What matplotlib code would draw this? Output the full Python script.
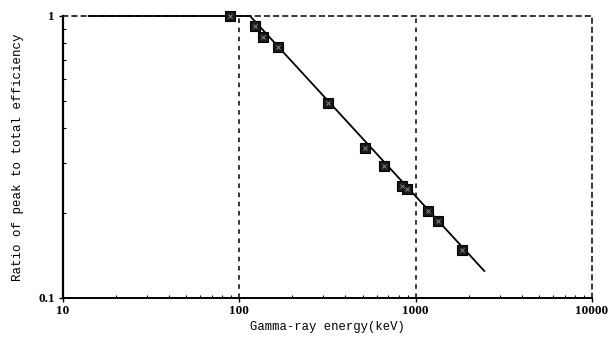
import matplotlib
matplotlib.use("Agg")
import matplotlib.pyplot as plt
from matplotlib.ticker import FixedLocator, NullFormatter, FixedFormatter

# Measured peak-to-total ratios for calibration sources
energy_kev = [88, 122, 136, 166, 320, 514, 662, 835, 898, 1173, 1332, 1836]
peak_to_total = [1.0, 0.922, 0.842, 0.776, 0.491, 0.340, 0.294, 0.249, 0.243, 0.203, 0.1875, 0.148]

# Fitted curve: flat at 1 below the knee, then a power-law decline
fit_energy = [14, 115, 2450]
fit_ratio = [1.0, 1.0, 0.1247]

x_ticks = [10, 100, 1000, 10000]
x_tick_labels = ["10", "100", "1000", "10000"]
y_ticks = [0.1, 1]
y_tick_labels = ["0.1", "1"]

fig = plt.figure(figsize=(6.16, 3.40), dpi=100)
ax = fig.add_axes([63 / 616, 1 - 298 / 340, (592 - 63) / 616, (298 - 16) / 340])

ax.set_xscale("log")
ax.set_yscale("log")
ax.set_xlim(10, 10000)
ax.set_ylim(0.1, 1)

ax.plot(fit_energy, fit_ratio, color="black", lw=1.3, zorder=3, clip_on=False)
ax.plot(energy_kev, peak_to_total, ls="none", marker="s", ms=6.5,
        mfc="#1a1a1a", mec="black", mew=0.8, zorder=4, clip_on=False)
ax.plot(energy_kev, peak_to_total, ls="none", marker="x", ms=2.5,
        mec="#999999", mew=0.6, zorder=5, clip_on=False)

# Dashed vertical guides at 100 and 1000 keV
for xv in [100, 1000]:
    ax.axvline(xv, color="black", ls=(0, (3, 3)), lw=1.1, zorder=2)

ax.spines["top"].set_linestyle((0, (3, 3)))
ax.spines["right"].set_linestyle((0, (3, 3)))
for side in ["top", "right"]:
    ax.spines[side].set_linewidth(1.1)
ax.spines["left"].set_linewidth(1.6)
ax.spines["bottom"].set_linewidth(1.4)

serif = "Liberation Serif"
mono = "Liberation Mono"

ax.xaxis.set_major_locator(FixedLocator(x_ticks))
ax.xaxis.set_major_formatter(FixedFormatter(x_tick_labels))
ax.yaxis.set_major_locator(FixedLocator(y_ticks))
ax.yaxis.set_major_formatter(FixedFormatter(y_tick_labels))
ax.xaxis.set_minor_locator(FixedLocator(
    [m * d for d in [10, 100, 1000] for m in range(2, 10)]))
ax.yaxis.set_minor_locator(FixedLocator([m * 0.1 for m in range(2, 10)]))
ax.xaxis.set_minor_formatter(NullFormatter())
ax.yaxis.set_minor_formatter(NullFormatter())

ax.tick_params(which="major", direction="out", length=3, width=1)
ax.tick_params(axis="x", which="major", pad=2)
ax.tick_params(axis="y", which="major", pad=3)
ax.tick_params(which="minor", direction="in", length=2, width=0.8)
ax.tick_params(axis="y", which="both", right=False)
ax.tick_params(axis="x", which="both", top=False)

for lab in ax.get_xticklabels() + ax.get_yticklabels():
    lab.set_fontfamily(serif)
    lab.set_fontsize(9.5)
    lab.set_fontweight("bold")

ax.set_xlabel("Gamma-ray energy(keV)", fontfamily=mono, fontsize=8.8, labelpad=3)
ax.set_ylabel("Ratio of peak to total efficiency", fontfamily=mono, fontsize=9,
              labelpad=10)

fig.savefig("out.png", dpi=100)
